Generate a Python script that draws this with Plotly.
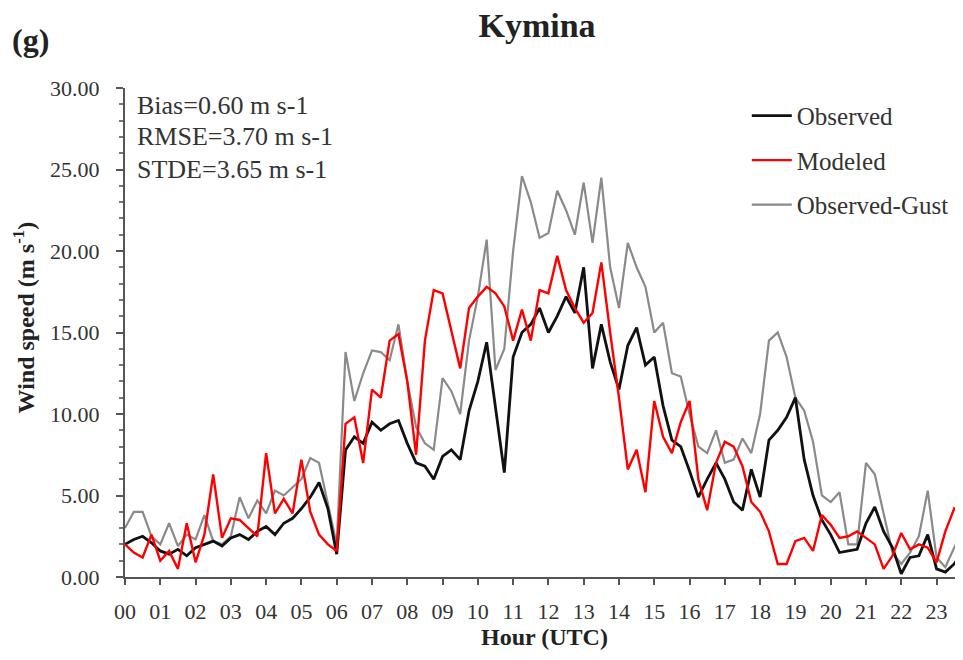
import plotly.graph_objects as go

hours = [i * 0.25 for i in range(96)]

observed = [2.0, 2.3, 2.5, 2.1, 1.6, 1.4, 1.7, 1.3, 1.8, 2.0, 2.2, 1.9,
            2.4, 2.6, 2.3, 2.8, 3.1, 2.6, 3.3, 3.6, 4.2, 4.9, 5.8, 4.2,
            1.4, 7.8, 8.6, 8.2, 9.5, 9.0, 9.4, 9.6, 8.2, 7.0, 6.8, 6.0,
            7.4, 7.8, 7.2, 10.2, 12.0, 14.4, 10.5, 6.4, 13.5, 15.0, 15.5, 16.5,
            15.0, 16.0, 17.2, 16.2, 19.0, 12.8, 15.5, 13.2, 11.5, 14.2, 15.3, 13.0,
            13.5, 10.5, 8.4, 8.0, 6.5, 4.9, 6.0, 7.0, 6.0, 4.6, 4.1, 6.6,
            4.9, 8.4, 9.0, 9.8, 11.0, 7.2, 5.0, 3.5, 2.6, 1.5, 1.6, 1.7,
            3.3, 4.3, 2.8, 1.8, 0.2, 1.2, 1.3, 2.6, 0.5, 0.3, 0.8, 1.6]

modeled = [2.0, 1.5, 1.2, 2.6, 1.0, 1.6, 0.5, 3.3, 0.9, 2.6, 6.3, 2.4,
           3.6, 3.5, 3.0, 2.5, 7.6, 3.9, 4.8, 3.9, 7.2, 4.0, 2.6, 2.0,
           1.6, 9.4, 9.8, 7.0, 11.5, 11.0, 14.5, 14.9, 12.0, 7.5, 14.5, 17.6,
           17.4, 15.0, 12.8, 16.5, 17.2, 17.8, 17.4, 16.6, 14.5, 16.4, 14.5, 17.6,
           17.4, 19.7, 17.6, 16.5, 15.6, 16.2, 19.3, 15.0, 11.0, 6.6, 7.8, 5.2,
           10.8, 8.6, 7.6, 9.5, 10.8, 6.0, 4.1, 7.0, 8.3, 8.0, 6.8, 4.6,
           4.0, 2.8, 0.8, 0.8, 2.2, 2.4, 1.6, 3.8, 3.2, 2.4, 2.5, 2.8,
           2.4, 2.0, 0.5, 1.3, 2.7, 1.7, 2.0, 1.8, 0.9, 2.8, 4.2, 3.9]

gust = [3.0, 4.0, 4.0, 2.5, 2.0, 3.3, 1.9, 2.6, 2.3, 3.8, 2.2, 2.0,
        2.5, 4.9, 3.6, 4.7, 3.9, 5.3, 5.0, 5.5, 6.0, 7.3, 7.0, 4.5,
        2.0, 13.8, 10.8, 12.5, 13.9, 13.8, 13.3, 15.5, 12.0, 9.2, 8.2, 7.8,
        12.2, 11.4, 10.0, 14.5, 17.2, 20.7, 12.7, 14.0, 20.0, 24.6, 23.0, 20.8,
        21.1, 23.7, 22.5, 21.0, 24.2, 20.5, 24.5, 19.0, 16.5, 20.5, 19.0, 17.8,
        15.0, 15.6, 12.5, 12.3, 10.0, 8.0, 7.6, 9.0, 7.0, 7.2, 8.5, 7.6,
        10.0, 14.5, 15.0, 13.5, 11.0, 10.2, 8.3, 5.0, 4.6, 5.2, 2.0, 2.0,
        7.0, 6.3, 4.0, 1.5, 0.8, 1.5, 2.5, 5.3, 1.2, 0.6, 1.8, 2.8]

hour_labels = ["%02d" % h for h in range(24)]
stats = ["Bias=0.60 m s-1", "RMSE=3.70 m s-1", "STDE=3.65 m s-1"]

SERIF = "Liberation Serif, Times New Roman, serif"
TXT = "#333333"

fig = go.Figure()
fig.add_trace(go.Scatter(x=hours, y=gust, mode="lines", name="Observed-Gust",
                         line=dict(color="#8a8a8a", width=2.2), legendrank=3, legendgroup="c"))
fig.add_trace(go.Scatter(x=hours, y=observed, mode="lines", name="Observed",
                         line=dict(color="#111111", width=2.8), legendrank=1, legendgroup="a"))
fig.add_trace(go.Scatter(x=hours, y=modeled, mode="lines", name="Modeled",
                         line=dict(color="#ff0000", width=2.4), legendrank=2, legendgroup="b"))

stat_y = [0.965, 0.90, 0.833]
for s, yy in zip(stats, stat_y):
    fig.add_annotation(x=0.012, y=yy, xref="paper", yref="paper",
                       text=s, showarrow=False, xanchor="left", yanchor="middle",
                       font=dict(family=SERIF, size=26, color=TXT))

fig.add_annotation(x=-0.137, y=1.098, xref="paper", yref="paper", text="<b>(g)</b>",
                   showarrow=False, xanchor="left", yanchor="middle",
                   font=dict(family=SERIF, size=32, color="#222222"))

fig.add_annotation(x=0.501, y=-0.123, xref="paper", yref="paper", text="<b>Hour (UTC)</b>",
                   showarrow=False, xanchor="center", yanchor="middle",
                   font=dict(family=SERIF, size=24, color="#222222"))

fig.add_annotation(x=-0.121, y=0.53, xref="paper", yref="paper",
                   text="<b>Wind speed (m s<sup>-1</sup>)</b>", textangle=-90,
                   showarrow=False, xanchor="center", yanchor="middle",
                   font=dict(family=SERIF, size=24, color="#222222"))

fig.update_layout(
    width=955, height=652,
    margin=dict(l=117, r=0, t=80, b=83),
    paper_bgcolor="white", plot_bgcolor="white",
    title=dict(text="<b>Kymina</b>", x=0.554, xanchor="center", y=0.974, yanchor="middle",
               font=dict(family=SERIF, size=34, color="#222222")),
    showlegend=True,
    legend=dict(x=0.742, y=0.99, xanchor="left", yanchor="top",
                font=dict(family=SERIF, size=25, color=TXT),
                tracegroupgap=9, bgcolor="rgba(0,0,0,0)", itemwidth=40),
    font=dict(family=SERIF, color=TXT),
)

fig.update_xaxes(range=[0, 23.75], tickvals=list(range(24)), ticktext=hour_labels,
                 ticks="outside", ticklen=6, tickwidth=1.5, tickcolor="#555555",
                 ticklabelstandoff=8,
                 showline=True, linecolor="#555555", linewidth=2, showgrid=False, zeroline=False,
                 tickfont=dict(family=SERIF, size=22, color=TXT))
fig.update_yaxes(range=[0, 30], tickvals=[0, 5, 10, 15, 20, 25, 30], tickformat=".2f",
                 ticks="outside", ticklen=7, tickwidth=1.5, tickcolor="#555555",
                 ticklabelstandoff=12,
                 minor=dict(dtick=1, ticks="outside", ticklen=4, tickcolor="#777777", showgrid=False),
                 showline=True, linecolor="#555555", linewidth=2, showgrid=False, zeroline=False,
                 tickfont=dict(family=SERIF, size=22, color=TXT))

fig.write_html("out.html")
